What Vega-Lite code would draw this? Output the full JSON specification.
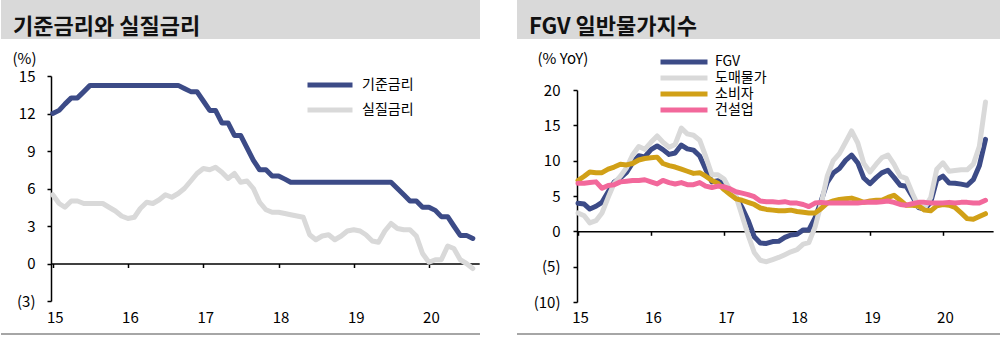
{
  "$schema": "https://vega.github.io/schema/vega-lite/v6.json",
  "background": "white",
  "padding": {"left": 1, "top": 0, "right": 0, "bottom": 0},
  "spacing": 37,
  "resolve": {"scale": {"color": "independent"}, "legend": {"color": "independent"}},
  "config": {
    "view": {"stroke": null},
    "font": "Noto Sans CJK KR",
    "axis": {"labelFont": "Noto Sans CJK KR", "titleFont": "Noto Sans CJK KR", "labelColor": "#000", "titleColor": "#000"},
    "legend": {"labelFont": "Noto Sans CJK KR", "labelColor": "#000"}
  },
  "datasets": {
    "rate": [
      {"d":"2015-01","기준금리":12.0,"실질금리":5.5},{"d":"2015-02","기준금리":12.25,"실질금리":4.8},{"d":"2015-03","기준금리":12.75,"실질금리":4.5},{"d":"2015-04","기준금리":13.25,"실질금리":5.0},{"d":"2015-05","기준금리":13.25,"실질금리":5.0},{"d":"2015-06","기준금리":13.75,"실질금리":4.8},{"d":"2015-07","기준금리":14.25,"실질금리":4.8},{"d":"2015-08","기준금리":14.25,"실질금리":4.8},{"d":"2015-09","기준금리":14.25,"실질금리":4.8},{"d":"2015-10","기준금리":14.25,"실질금리":4.5},{"d":"2015-11","기준금리":14.25,"실질금리":4.2},{"d":"2015-12","기준금리":14.25,"실질금리":3.8},
      {"d":"2016-01","기준금리":14.25,"실질금리":3.6},{"d":"2016-02","기준금리":14.25,"실질금리":3.7},{"d":"2016-03","기준금리":14.25,"실질금리":4.4},{"d":"2016-04","기준금리":14.25,"실질금리":4.9},{"d":"2016-05","기준금리":14.25,"실질금리":4.8},{"d":"2016-06","기준금리":14.25,"실질금리":5.1},{"d":"2016-07","기준금리":14.25,"실질금리":5.5},{"d":"2016-08","기준금리":14.25,"실질금리":5.3},{"d":"2016-09","기준금리":14.25,"실질금리":5.6},{"d":"2016-10","기준금리":14.0,"실질금리":6.0},{"d":"2016-11","기준금리":13.75,"실질금리":6.6},{"d":"2016-12","기준금리":13.75,"실질금리":7.2},
      {"d":"2017-01","기준금리":13.0,"실질금리":7.6},{"d":"2017-02","기준금리":12.25,"실질금리":7.5},{"d":"2017-03","기준금리":12.25,"실질금리":7.7},{"d":"2017-04","기준금리":11.25,"실질금리":7.3},{"d":"2017-05","기준금리":11.25,"실질금리":6.8},{"d":"2017-06","기준금리":10.25,"실질금리":7.2},{"d":"2017-07","기준금리":10.25,"실질금리":6.5},{"d":"2017-08","기준금리":9.25,"실질금리":6.6},{"d":"2017-09","기준금리":8.25,"실질금리":6.0},{"d":"2017-10","기준금리":7.5,"실질금리":4.9},{"d":"2017-11","기준금리":7.5,"실질금리":4.3},{"d":"2017-12","기준금리":7.0,"실질금리":4.1},
      {"d":"2018-01","기준금리":7.0,"실질금리":4.1},{"d":"2018-02","기준금리":6.75,"실질금리":4.0},{"d":"2018-03","기준금리":6.5,"실질금리":3.9},{"d":"2018-04","기준금리":6.5,"실질금리":3.8},{"d":"2018-05","기준금리":6.5,"실질금리":3.7},{"d":"2018-06","기준금리":6.5,"실질금리":2.3},{"d":"2018-07","기준금리":6.5,"실질금리":1.9},{"d":"2018-08","기준금리":6.5,"실질금리":2.2},{"d":"2018-09","기준금리":6.5,"실질금리":2.3},{"d":"2018-10","기준금리":6.5,"실질금리":1.9},{"d":"2018-11","기준금리":6.5,"실질금리":2.2},{"d":"2018-12","기준금리":6.5,"실질금리":2.6},
      {"d":"2019-01","기준금리":6.5,"실질금리":2.7},{"d":"2019-02","기준금리":6.5,"실질금리":2.6},{"d":"2019-03","기준금리":6.5,"실질금리":2.3},{"d":"2019-04","기준금리":6.5,"실질금리":1.8},{"d":"2019-05","기준금리":6.5,"실질금리":1.7},{"d":"2019-06","기준금리":6.5,"실질금리":2.6},{"d":"2019-07","기준금리":6.5,"실질금리":3.2},{"d":"2019-08","기준금리":6.0,"실질금리":2.8},{"d":"2019-09","기준금리":5.5,"실질금리":2.7},{"d":"2019-10","기준금리":5.0,"실질금리":2.7},{"d":"2019-11","기준금리":5.0,"실질금리":2.2},{"d":"2019-12","기준금리":4.5,"실질금리":0.8},
      {"d":"2020-01","기준금리":4.5,"실질금리":0.1},{"d":"2020-02","기준금리":4.25,"실질금리":0.3},{"d":"2020-03","기준금리":3.75,"실질금리":0.3},{"d":"2020-04","기준금리":3.75,"실질금리":1.4},{"d":"2020-05","기준금리":3.0,"실질금리":1.2},{"d":"2020-06","기준금리":2.25,"실질금리":0.3},{"d":"2020-07","기준금리":2.25,"실질금리":0.0},{"d":"2020-08","기준금리":2.0,"실질금리":-0.4}
    ],
    "price": [
      {"d":"2015-01","FGV":3.98,"도매물가":2.6,"소비자":7.2,"건설업":6.8},{"d":"2015-02","FGV":3.86,"도매물가":2.2,"소비자":7.8,"건설업":6.8},{"d":"2015-03","FGV":3.16,"도매물가":1.2,"소비자":8.4,"건설업":6.9},{"d":"2015-04","FGV":3.55,"도매물가":1.5,"소비자":8.3,"건설업":7.0},{"d":"2015-05","FGV":4.11,"도매물가":2.6,"소비자":8.3,"건설업":6.1},{"d":"2015-06","FGV":5.58,"도매물가":4.8,"소비자":8.8,"건설업":6.5},{"d":"2015-07","FGV":6.97,"도매물가":6.8,"소비자":9.1,"건설업":6.6},{"d":"2015-08","FGV":7.55,"도매물가":7.8,"소비자":9.5,"건설업":7.0},{"d":"2015-09","FGV":8.35,"도매물가":9.0,"소비자":9.4,"건설업":7.1},{"d":"2015-10","FGV":9.68,"도매물가":10.8,"소비자":9.6,"건설업":7.2},{"d":"2015-11","FGV":10.69,"도매물가":12.0,"소비자":10.1,"건설업":7.2},{"d":"2015-12","FGV":10.54,"도매물가":11.6,"소비자":10.3,"건설업":7.3},
      {"d":"2016-01","FGV":11.56,"도매물가":12.6,"소비자":10.4,"건설업":7.0},{"d":"2016-02","FGV":12.08,"도매물가":13.5,"소비자":10.5,"건설업":6.7},{"d":"2016-03","FGV":11.56,"도매물가":12.6,"소비자":9.6,"건설업":7.2},{"d":"2016-04","FGV":10.88,"도매물가":11.9,"소비자":9.3,"건설업":6.9},{"d":"2016-05","FGV":11.09,"도매물가":12.3,"소비자":9.1,"건설업":6.7},{"d":"2016-06","FGV":12.21,"도매물가":14.6,"소비자":8.8,"건설업":6.9},{"d":"2016-07","FGV":11.67,"도매물가":13.8,"소비자":8.5,"건설업":6.6},{"d":"2016-08","FGV":11.49,"도매물가":13.6,"소비자":8.2,"건설업":6.6},{"d":"2016-09","FGV":10.66,"도매물가":12.9,"소비자":8.3,"건설업":6.9},{"d":"2016-10","FGV":8.78,"도매물가":10.6,"소비자":7.8,"건설업":6.4},{"d":"2016-11","FGV":7.0,"도매물가":8.0,"소비자":7.2,"건설업":6.2},{"d":"2016-12","FGV":7.17,"도매물가":8.0,"소비자":6.8,"건설업":6.4},
      {"d":"2017-01","FGV":6.65,"도매물가":7.4,"소비자":5.9,"건설업":6.3},{"d":"2017-02","FGV":5.38,"도매물가":5.8,"소비자":5.2,"건설업":6.0},{"d":"2017-03","FGV":4.86,"도매물가":5.0,"소비자":4.6,"건설업":5.6},{"d":"2017-04","FGV":3.37,"도매물가":2.2,"소비자":4.4,"건설업":5.4},{"d":"2017-05","FGV":1.57,"도매물가":-0.5,"소비자":4.1,"건설업":5.2},{"d":"2017-06","FGV":-0.78,"도매물가":-3.0,"소비자":3.8,"건설업":4.9},{"d":"2017-07","FGV":-1.66,"도매물가":-4.1,"소비자":3.3,"건설업":4.3},{"d":"2017-08","FGV":-1.71,"도매물가":-4.3,"소비자":3.1,"건설업":4.2},{"d":"2017-09","FGV":-1.45,"도매물가":-4.0,"소비자":3.0,"건설업":4.2},{"d":"2017-10","FGV":-1.41,"도매물가":-3.7,"소비자":2.9,"건설업":4.1},{"d":"2017-11","FGV":-0.86,"도매물가":-3.3,"소비자":2.9,"건설업":4.2},{"d":"2017-12","FGV":-0.52,"도매물가":-2.9,"소비자":3.0,"건설업":4.0},
      {"d":"2018-01","FGV":-0.41,"도매물가":-2.6,"소비자":2.8,"건설업":4.0},{"d":"2018-02","FGV":0.2,"도매물가":-1.8,"소비자":2.7,"건설업":3.8},{"d":"2018-03","FGV":0.2,"도매물가":-1.6,"소비자":2.6,"건설업":3.5},{"d":"2018-04","FGV":1.89,"도매물가":0.6,"소비자":2.6,"건설업":4.0},{"d":"2018-05","FGV":4.26,"도매물가":3.8,"소비자":3.2,"건설업":4.1},{"d":"2018-06","FGV":6.92,"도매물가":7.8,"소비자":4.0,"건설업":4.0},{"d":"2018-07","FGV":8.24,"도매물가":10.0,"소비자":4.3,"건설업":4.0},{"d":"2018-08","FGV":8.89,"도매물가":11.0,"소비자":4.5,"건설업":4.0},{"d":"2018-09","FGV":10.04,"도매물가":12.6,"소비자":4.6,"건설업":4.0},{"d":"2018-10","FGV":10.79,"도매물가":14.2,"소비자":4.7,"건설업":4.0},{"d":"2018-11","FGV":9.68,"도매물가":12.5,"소비자":4.4,"건설업":4.0},{"d":"2018-12","FGV":7.55,"도매물가":9.6,"소비자":4.1,"건설업":4.1},
      {"d":"2019-01","FGV":6.74,"도매물가":8.4,"소비자":4.3,"건설업":4.1},{"d":"2019-02","FGV":7.6,"도매물가":9.5,"소비자":4.4,"건설업":4.1},{"d":"2019-03","FGV":8.27,"도매물가":10.4,"소비자":4.4,"건설업":4.2},{"d":"2019-04","FGV":8.64,"도매물가":10.8,"소비자":4.8,"건설업":4.3},{"d":"2019-05","FGV":7.64,"도매물가":9.5,"소비자":5.1,"건설업":4.1},{"d":"2019-06","FGV":6.51,"도매물가":7.8,"소비자":4.4,"건설업":3.8},{"d":"2019-07","FGV":6.39,"도매물가":7.5,"소비자":3.7,"건설업":3.7},{"d":"2019-08","FGV":4.95,"도매물가":5.4,"소비자":3.7,"건설업":3.9},{"d":"2019-09","FGV":3.37,"도매물가":3.5,"소비자":3.6,"건설업":4.1},{"d":"2019-10","FGV":3.15,"도매물가":3.3,"소비자":3.0,"건설업":4.1},{"d":"2019-11","FGV":4.12,"도매물가":4.8,"소비자":2.9,"건설업":4.0},{"d":"2019-12","FGV":7.3,"도매물가":8.8,"소비자":3.6,"건설업":4.0},
      {"d":"2020-01","FGV":7.81,"도매물가":9.7,"소비자":3.8,"건설업":4.0},{"d":"2020-02","FGV":6.84,"도매물가":8.5,"소비자":3.7,"건설업":4.1},{"d":"2020-03","FGV":6.81,"도매물가":8.6,"소비자":3.4,"건설업":4.0},{"d":"2020-04","FGV":6.68,"도매물가":8.7,"소비자":2.6,"건설업":4.1},{"d":"2020-05","FGV":6.51,"도매물가":8.7,"소비자":1.8,"건설업":4.1},{"d":"2020-06","FGV":7.31,"도매물가":9.5,"소비자":1.7,"건설업":4.0},{"d":"2020-07","FGV":9.27,"도매물가":12.0,"소비자":2.1,"건설업":4.0},{"d":"2020-08","FGV":13.02,"도매물가":18.3,"소비자":2.5,"건설업":4.4}
    ]
  },
  "hconcat": [
    {
      "spacing": 0,
      "bounds": "flush",
      "vconcat": [
        {
          "width": 479, "height": 39,
          "view": {"fill": "#d9d9d9", "stroke": null},
          "title": {"text": "기준금리와 실질금리", "anchor": "start", "orient": "top", "frame": "group", "offset": -61, "dx": 12, "baseline": "bottom", "fontSize": 22, "fontWeight": "bold", "font": "Noto Sans CJK KR", "color": "#111"},
          "data": {"values": [{}]},
          "mark": {"type": "point", "opacity": 0},
          "encoding": {}
        },
        {
          "width": 479, "height": 294,
          "data": {"name": "rate"},
          "transform": [{"fold": ["기준금리", "실질금리"], "as": ["s", "v"]}],
          "encoding": {
            "x": {
              "field": "d", "type": "temporal",
              "scale": {"type": "utc", "domain": [{"year": 2014, "month": 12, "date": 25, "utc": true}, {"year": 2020, "month": 9, "date": 1, "utc": true}], "range": [50.3, 478.2]},
              "axis": {
                "orient": "bottom", "offset": -69.5, "title": null, "grid": false,
                "values": [{"year": 2015, "month": 1, "date": 1, "utc": true}, {"year": 2016, "month": 1, "date": 1, "utc": true}, {"year": 2017, "month": 1, "date": 1, "utc": true}, {"year": 2018, "month": 1, "date": 1, "utc": true}, {"year": 2019, "month": 1, "date": 1, "utc": true}, {"year": 2020, "month": 1, "date": 1, "utc": true}],
                "labelExpr": "utcFormat(datum.value, '%y')",
                "domainColor": "#000", "domainWidth": 1.5, "tickColor": "#000", "tickWidth": 1.5, "tickSize": 4,
                "labelPadding": 42.5, "labelFontSize": 15, "labelOffset": 2, "labelFlush": false, "labelOverlap": false
              }
            },
            "y": {
              "field": "v", "type": "quantitative",
              "scale": {"domain": [-3, 15], "range": [262, 37], "nice": false, "zero": false},
              "axis": {
                "orient": "left", "offset": -50, "grid": false,
                "values": [-3, 0, 3, 6, 9, 12, 15],
                "labelExpr": "datum.value < 0 ? '(' + abs(datum.value) + ')' : '' + datum.value",
                "domainColor": "#000", "domainWidth": 1.5, "tickColor": "#000", "tickWidth": 1.5, "tickSize": 4,
                "labelPadding": 12, "labelFontSize": 15, "labelFlush": false, "labelOverlap": false,
                "title": "(%)", "titleAngle": 0, "titleAlign": "left", "titleBaseline": "middle", "titleX": -39, "titleY": 19, "titleFontSize": 15, "titleFontWeight": "normal"
              }
            },
            "color": {
              "field": "s", "type": "nominal",
              "scale": {"domain": ["기준금리", "실질금리"], "range": ["#3c4b87", "#d9d9d9"]},
              "legend": {"orient": "none", "legendX": 304, "legendY": 72.5, "title": null, "padding": 0, "symbolType": "stroke", "symbolSize": 2025, "symbolStrokeWidth": 5, "labelFontSize": 14, "labelOffset": 7, "clipHeight": 25, "rowPadding": 0}
            }
          },
          "layer": [
            {"transform": [{"filter": "datum.s === '실질금리'"}], "mark": {"type": "line", "strokeWidth": 5, "strokeJoin": "round", "strokeCap": "round"}},
            {"transform": [{"filter": "datum.s === '기준금리'"}], "mark": {"type": "line", "strokeWidth": 5, "strokeJoin": "round", "strokeCap": "round"}}
          ]
        },
        {
          "width": 479, "height": 2,
          "view": {"fill": "#a6a6a6", "stroke": null},
          "data": {"values": [{}]},
          "mark": {"type": "point", "opacity": 0},
          "encoding": {}
        }
      ]
    },
    {
      "spacing": 0,
      "bounds": "flush",
      "vconcat": [
        {
          "width": 483, "height": 39,
          "view": {"fill": "#d9d9d9", "stroke": null},
          "title": {"text": "FGV 일반물가지수", "anchor": "start", "orient": "top", "frame": "group", "offset": -61, "dx": 12, "baseline": "bottom", "fontSize": 22, "fontWeight": "bold", "font": "Noto Sans CJK KR", "color": "#111"},
          "data": {"values": [{}]},
          "mark": {"type": "point", "opacity": 0},
          "encoding": {}
        },
        {
          "width": 483, "height": 294,
          "data": {"name": "price"},
          "transform": [{"fold": ["FGV", "도매물가", "소비자", "건설업"], "as": ["s", "v"]}],
          "encoding": {
            "x": {
              "field": "d", "type": "temporal",
              "scale": {"type": "utc", "domain": [{"year": 2014, "month": 12, "date": 25, "utc": true}, {"year": 2020, "month": 9, "date": 8, "utc": true}], "range": [59.6, 476.1]},
              "axis": {
                "orient": "bottom", "offset": -101.7, "title": null, "grid": false,
                "values": [{"year": 2015, "month": 1, "date": 1, "utc": true}, {"year": 2016, "month": 1, "date": 1, "utc": true}, {"year": 2017, "month": 1, "date": 1, "utc": true}, {"year": 2018, "month": 1, "date": 1, "utc": true}, {"year": 2019, "month": 1, "date": 1, "utc": true}, {"year": 2020, "month": 1, "date": 1, "utc": true}],
                "labelExpr": "utcFormat(datum.value, '%y')",
                "domainColor": "#000", "domainWidth": 1.5, "tickColor": "#000", "tickWidth": 1.5, "tickSize": 4,
                "labelPadding": 74.7, "labelFontSize": 15, "labelOffset": 2, "labelFlush": false, "labelOverlap": false
              }
            },
            "y": {
              "field": "v", "type": "quantitative",
              "scale": {"domain": [-10, 20], "range": [263, 51], "nice": false, "zero": false},
              "axis": {
                "orient": "left", "offset": -60, "grid": false,
                "values": [-10, -5, 0, 5, 10, 15, 20],
                "labelExpr": "datum.value < 0 ? '(' + abs(datum.value) + ')' : '' + datum.value",
                "domainColor": "#000", "domainWidth": 1.5, "tickColor": "#000", "tickWidth": 1.5, "tickSize": 4,
                "labelPadding": 13, "labelFontSize": 15, "labelFlush": false, "labelOverlap": false,
                "title": "(% YoY)", "titleAngle": 0, "titleAlign": "left", "titleBaseline": "middle", "titleX": -40, "titleY": 19, "titleFontSize": 15, "titleFontWeight": "normal"
              }
            },
            "color": {
              "field": "s", "type": "nominal",
              "scale": {"domain": ["FGV", "도매물가", "소비자", "건설업"], "range": ["#3c4b87", "#d9d9d9", "#d1a017", "#f2689b"]},
              "legend": {"orient": "none", "legendX": 141, "legendY": 54, "title": null, "padding": 0, "symbolType": "stroke", "symbolSize": 2209, "symbolStrokeWidth": 5, "labelFontSize": 14, "labelOffset": 5, "clipHeight": 16, "rowPadding": 0}
            }
          },
          "layer": [
            {"transform": [{"filter": "datum.s === 'FGV'"}], "mark": {"type": "line", "strokeWidth": 5, "strokeJoin": "round", "strokeCap": "round"}},
            {"transform": [{"filter": "datum.s === '도매물가'"}], "mark": {"type": "line", "strokeWidth": 5, "strokeJoin": "round", "strokeCap": "round"}},
            {"transform": [{"filter": "datum.s === '소비자'"}], "mark": {"type": "line", "strokeWidth": 5, "strokeJoin": "round", "strokeCap": "round"}},
            {"transform": [{"filter": "datum.s === '건설업'"}], "mark": {"type": "line", "strokeWidth": 5, "strokeJoin": "round", "strokeCap": "round"}}
          ]
        },
        {
          "width": 483, "height": 2,
          "view": {"fill": "#a6a6a6", "stroke": null},
          "data": {"values": [{}]},
          "mark": {"type": "point", "opacity": 0},
          "encoding": {}
        }
      ]
    }
  ]
}
